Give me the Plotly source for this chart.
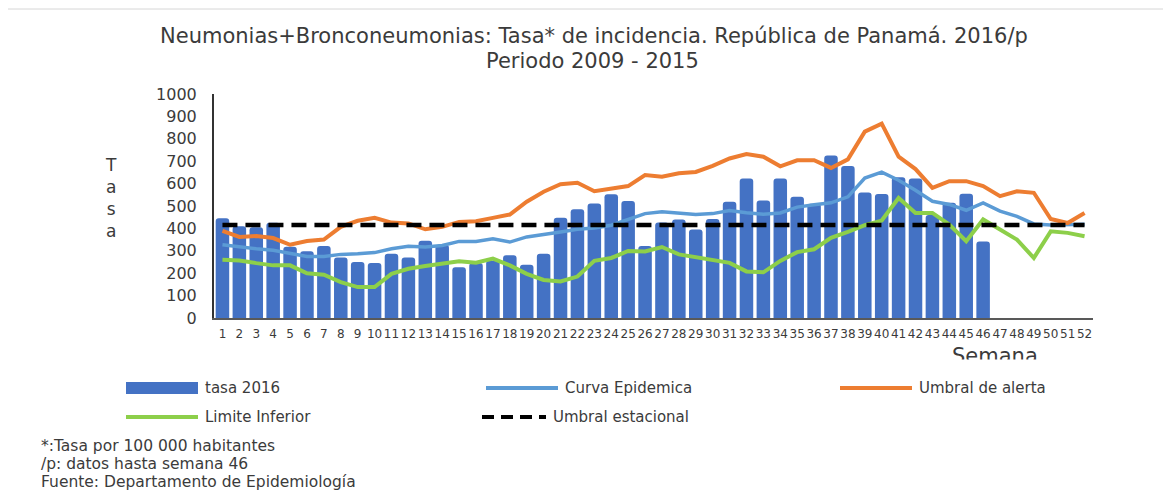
import plotly.graph_objects as go

# semanas epidemiologicas
semanas = [str(i) for i in range(1, 53)]

# tasa 2016 (datos hasta semana 46)
tasa_2016 = [445, 410, 405, 425, 318, 298, 321, 270, 250, 245, 287, 270, 345, 327, 227, 245,
             257, 280, 238, 287, 447, 486, 511, 552, 522, 321, 426, 440, 395, 442, 519, 623,
             525, 623, 541, 510, 726, 679, 560, 554, 628, 623, 460, 515, 555, 342]

curva_epidemica = [327, 317, 309, 302, 287, 275, 275, 284, 287, 292, 309, 320, 317, 324, 342, 342,
                   354, 339, 362, 372, 384, 396, 402, 414, 440, 466, 474, 469, 462, 466, 480, 470,
                   463, 469, 495, 506, 514, 541, 625, 651, 615, 570, 521, 507, 481, 514, 477, 454,
                   420, 415, 415, 418]

umbral_alerta = [389, 362, 366, 357, 327, 344, 350, 407, 434, 447, 426, 422, 396, 407, 429, 432,
                 447, 462, 519, 564, 597, 604, 566, 579, 589, 638, 631, 646, 652, 679, 712, 732,
                 720, 677, 704, 704, 670, 708, 832, 868, 720, 665, 581, 611, 611, 589, 544, 566,
                 559, 442, 424, 469]

limite_inferior = [260, 257, 245, 235, 235, 200, 193, 160, 138, 138, 197, 220, 232, 242, 253, 247,
                   265, 235, 197, 170, 163, 185, 255, 268, 299, 297, 317, 284, 272, 258, 246, 208,
                   204, 255, 294, 307, 358, 384, 414, 435, 536, 469, 469, 417, 343, 440, 395, 350,
                   268, 387, 380, 365]

umbral_estacional = 415

y_ticks = [0, 100, 200, 300, 400, 500, 600, 700, 800, 900, 1000]

# colores
c_bar = "#4472C4"
c_curva = "#5B9BD5"
c_alerta = "#ED7D31"
c_inf = "#8DCF4A"
c_text = "#3b3b3b"
FONT = "DejaVu Sans"

# the page adds an 8px body margin, so the figure is 8px smaller and shifted
OFF = 8
W, H = 1171, 495
L, R, T, B = 214, 78, 94, 177
PW, PH = W - L - R, H - T - B


def px(x):
    return (x - L) / PW


def py(y):
    return (H - B - y) / PH


def txt(text, x, y, size, xanchor="center", **kw):
    return dict(text=text, x=px(x), y=py(y), xref="paper", yref="paper", showarrow=False,
                xanchor=xanchor, yanchor="middle",
                font=dict(size=size, color=c_text, family=FONT), **kw)


fig = go.Figure()

fig.add_trace(go.Bar(x=semanas[:len(tasa_2016)], y=tasa_2016, name="tasa 2016",
                     marker=dict(color=c_bar, cornerradius=3, line=dict(width=0))))
fig.add_trace(go.Scatter(x=semanas, y=curva_epidemica, name="Curva Epidemica", mode="lines",
                         line=dict(color=c_curva, width=3.5)))
fig.add_trace(go.Scatter(x=semanas, y=umbral_alerta, name="Umbral de alerta", mode="lines",
                         line=dict(color=c_alerta, width=4)))
fig.add_trace(go.Scatter(x=semanas, y=limite_inferior, name="Limite Inferior", mode="lines",
                         line=dict(color=c_inf, width=4)))
fig.add_trace(go.Scatter(x=semanas, y=[umbral_estacional] * len(semanas), name="Umbral estacional",
                         mode="lines", line=dict(color="black", width=4.5, dash="15px,8px")))

# thin frame line at the top, as in the original slide
shapes = [
    dict(type="line", xref="paper", yref="paper", x0=px(0), x1=px(W + 10), y0=py(9), y1=py(9),
         line=dict(color="#d6d6d6", width=1), layer="below"),
]

annotations = [
    txt("Neumonias+Bronconeumonias: Tasa* de incidencia. República de Panamá. 2016/p", 594, 36, 21),
    txt("Periodo 2009 - 2015", 592, 61, 21),
    txt("T<br>a<br>s<br>a", 111, 198, 17),
    txt("Semana", 995, 356, 21),
    # the source image is cut just below the axis title
    txt(" ", 995, 369, 10, width=130, height=16, bgcolor="white"),
]

# legend drawn by hand, same layout as the Excel one
legend_items = [
    ("tasa 2016", "bar", c_bar, 126, 388),
    ("Curva Epidemica", "line", c_curva, 486, 388),
    ("Umbral de alerta", "line", c_alerta, 840, 388),
    ("Limite Inferior", "line", c_inf, 126, 417),
    ("Umbral estacional", "dash", "black", 482, 417),
]
for name, kind, col, x0, yy in legend_items:
    x1 = x0 + 72 if kind != "dash" else x0 + 64
    if kind == "bar":
        shapes.append(dict(type="rect", xref="paper", yref="paper", x0=px(x0), x1=px(x1),
                           y0=py(yy + 6), y1=py(yy - 6), fillcolor=col, line=dict(width=0)))
    else:
        shapes.append(dict(type="line", xref="paper", yref="paper", x0=px(x0), x1=px(x1),
                           y0=py(yy), y1=py(yy),
                           line=dict(color=col, width=4, dash="12px,7px" if kind == "dash" else "solid")))
    annotations.append(txt(name, x1 + 5, yy, 15, xanchor="left"))

notas = ["*:Tasa por 100 000 habitantes", "/p: datos hasta semana 46",
         "Fuente: Departamento de Epidemiología"]
for i, n in enumerate(notas):
    annotations.append(txt(n, 39, 446 + 18 * i, 15.5, xanchor="left"))

fig.update_layout(
    width=W - OFF, height=H - OFF,
    margin=dict(l=L - OFF, r=R, t=T - OFF, b=B),
    paper_bgcolor="white",
    plot_bgcolor="white",
    showlegend=False,
    bargap=0.2,
    font=dict(family=FONT, color=c_text),
    shapes=shapes,
    annotations=annotations,
    xaxis=dict(type="category", range=[-0.5, 51.5], showgrid=False, showline=True,
               linecolor="#595959", linewidth=1.5, ticks="", tickangle=0, ticklabelstandoff=4,
               tickfont=dict(size=12, color=c_text, family=FONT), zeroline=False),
    yaxis=dict(range=[0, 1000], tickvals=y_ticks, showgrid=False, showline=True,
               linecolor="#333333", linewidth=2, ticks="", ticklabelstandoff=12,
               tickfont=dict(size=16, color=c_text, family=FONT), zeroline=False),
)

fig.write_html("out.html")
